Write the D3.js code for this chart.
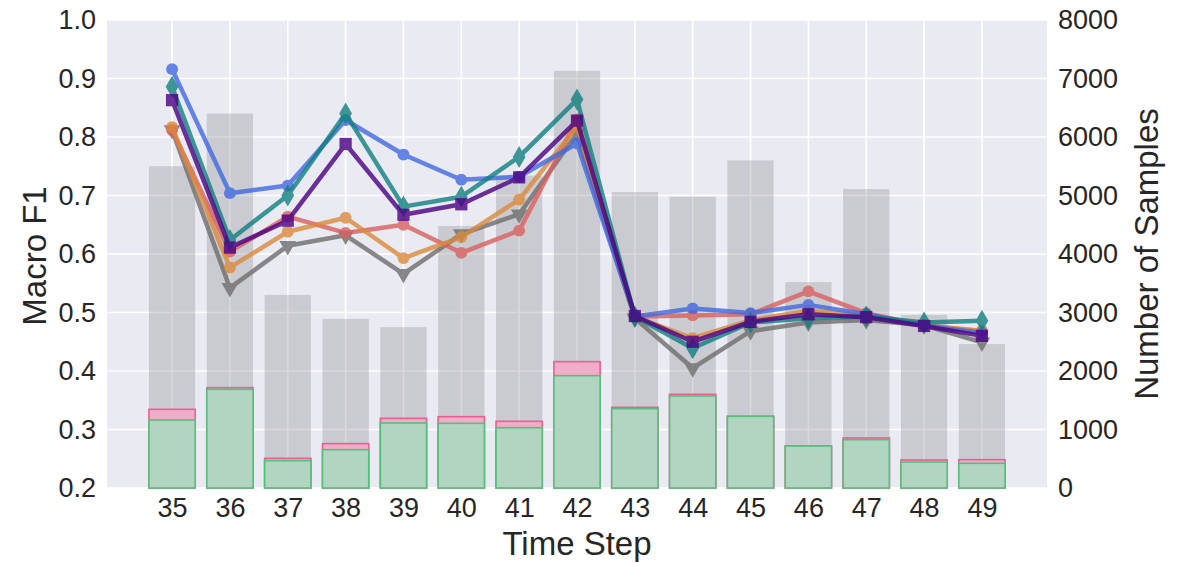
<!DOCTYPE html>
<html>
<head>
<meta charset="utf-8">
<script src="https://cdn.jsdelivr.net/npm/d3@7"></script>
<style>
  body { margin: 0; background: #fff; }
  text { font-family: "Liberation Sans", Arial, sans-serif; fill: #262626; }
</style>
</head>
<body>
<div id="chartArea"></div>
<script>
// time steps on the x axis
var steps = [35, 36, 37, 38, 39, 40, 41, 42, 43, 44, 45, 46, 47, 48, 49];

// sample counts (right axis)
var totalSamples = [5500, 6400, 3300, 2890, 2750, 4480, 5340, 7130, 5060, 4980, 5600, 3520, 5110, 2960, 2460];
var pinkSamples  = [1345, 1715, 507, 758, 1191, 1219, 1140, 2160, 1379, 1601, 1225, 718, 855, 479, 484];
var greenSamples = [1162, 1687, 467, 655, 1111, 1105, 1031, 1920, 1356, 1573, 1225, 718, 826, 444, 422];

// macro F1 series (left axis)
var grayF1   = [0.812, 0.542, 0.614, 0.632, 0.566, 0.634, 0.668, 0.806, 0.490, 0.405, 0.468, 0.483, 0.487, 0.478, 0.449];
var redF1    = [0.812, 0.604, 0.664, 0.636, 0.650, 0.602, 0.640, 0.830, 0.493, 0.495, 0.497, 0.536, 0.499, 0.478, 0.468];
var orangeF1 = [0.817, 0.577, 0.638, 0.662, 0.593, 0.629, 0.693, 0.818, 0.493, 0.456, 0.487, 0.503, 0.495, 0.478, 0.469];
var blueF1   = [0.916, 0.704, 0.717, 0.829, 0.770, 0.727, 0.732, 0.789, 0.493, 0.507, 0.499, 0.513, 0.497, 0.478, 0.465];
var tealF1   = [0.886, 0.624, 0.700, 0.840, 0.681, 0.698, 0.766, 0.864, 0.493, 0.439, 0.483, 0.490, 0.493, 0.483, 0.486];
var purpleF1 = [0.863, 0.611, 0.657, 0.788, 0.667, 0.685, 0.731, 0.828, 0.494, 0.450, 0.484, 0.497, 0.492, 0.477, 0.460];

var f1Ticks = [0.2, 0.3, 0.4, 0.5, 0.6, 0.7, 0.8, 0.9, 1.0];
var sampleTicks = [0, 1000, 2000, 3000, 4000, 5000, 6000, 7000, 8000];

var width = 1188, height = 563;
var margin = {top: 20, right: 141, bottom: 75, left: 107};
var innerW = width - margin.left - margin.right;
var innerH = height - margin.top - margin.bottom;

var xscale = d3.scaleLinear().domain([-1.125, steps.length - 1 + 1.125]).range([0, innerW]);
var yscale = d3.scaleLinear().domain([0.2, 1.0]).range([innerH, 0]);
var y2scale = d3.scaleLinear().domain([0, 8000]).range([innerH, 0]);
var barW = xscale(0.8) - xscale(0);

var svg = d3.select('#chartArea').append('svg')
    .attr('width', width)
    .attr('height', height);

var g = svg.append('g')
    .attr('transform', 'translate(' + margin.left + ',' + margin.top + ')');

g.append('rect')
    .attr('width', innerW).attr('height', innerH)
    .attr('fill', '#eaeaf2');

// grid
g.append('g').selectAll('line').data(f1Ticks).enter().append('line')
    .attr('x1', 0).attr('x2', innerW)
    .attr('y1', function(d){ return yscale(d); })
    .attr('y2', function(d){ return yscale(d); })
    .attr('stroke', '#fff').attr('stroke-width', 1.6);
g.append('g').selectAll('line').data(steps).enter().append('line')
    .attr('x1', function(d, i){ return xscale(i); })
    .attr('x2', function(d, i){ return xscale(i); })
    .attr('y1', 0).attr('y2', innerH)
    .attr('stroke', '#fff').attr('stroke-width', 1.6);

// bars
function bars(data, fill, fillOp, stroke) {
    g.append('g').selectAll('rect').data(data).enter().append('rect')
        .attr('x', function(d, i){ return xscale(i) - barW / 2; })
        .attr('y', function(d){ return y2scale(d); })
        .attr('width', barW)
        .attr('height', function(d){ return innerH - y2scale(d); })
        .attr('fill', fill)
        .attr('fill-opacity', fillOp)
        .attr('stroke', stroke || 'none')
        .attr('stroke-width', 1.6);
}
bars(totalSamples, '#808085', 0.3);
bars(pinkSamples, '#f5a8c6', 0.88, '#ea5f92');
bars(greenSamples, '#a7dbbe', 0.88, '#56bf7c');

// lines
var series = [
    {vals: grayF1,   color: '#6e6e6e', marker: 'tri'},
    {vals: redF1,    color: '#d9605e', marker: 'circle'},
    {vals: orangeF1, color: '#dc8a3c', marker: 'circle'},
    {vals: blueF1,   color: '#4169e1', marker: 'circle'},
    {vals: tealF1,   color: '#107f7f', marker: 'diamond'},
    {vals: purpleF1, color: '#4b0082', marker: 'square'}
];
var line = d3.line()
    .x(function(d, i){ return xscale(i); })
    .y(function(d){ return yscale(d); });
var symbols = {
    circle: d3.symbol().type(d3.symbolCircle).size(110),
    square: d3.symbol().type(d3.symbolSquare).size(150),
    diamond: d3.symbol().type(d3.symbolDiamond).size(140),
    tri: d3.symbol().type(d3.symbolTriangle).size(120)
};
series.forEach(function(s) {
    var sg = g.append('g').attr('opacity', 0.8);
    sg.append('path').datum(s.vals)
        .attr('d', line)
        .attr('fill', 'none')
        .attr('stroke', s.color)
        .attr('stroke-width', 4.5)
        .attr('stroke-linejoin', 'round');
    sg.selectAll('path.m').data(s.vals).enter().append('path')
        .attr('class', 'm')
        .attr('d', symbols[s.marker])
        .attr('transform', function(d, i){
            return 'translate(' + xscale(i) + ',' + yscale(d) + ')' + (s.marker == 'tri' ? ' rotate(180)' : '');
        })
        .attr('fill', s.color);
});

// axes
var yAxis = g.append('g')
    .call(d3.axisLeft(yscale).tickValues(f1Ticks).tickFormat(d3.format('.1f')).tickSize(0).tickPadding(11));
var y2Axis = g.append('g')
    .attr('transform', 'translate(' + innerW + ',0)')
    .call(d3.axisRight(y2scale).tickValues(sampleTicks).tickFormat(d3.format('d')).tickSize(0).tickPadding(11));
var xAxis = g.append('g')
    .attr('transform', 'translate(0,' + innerH + ')')
    .call(d3.axisBottom(xscale).tickValues(d3.range(steps.length))
        .tickFormat(function(i){ return steps[i]; }).tickSize(0).tickPadding(10));
[yAxis, y2Axis, xAxis].forEach(function(a) {
    a.select('.domain').remove();
    a.selectAll('text').style('font-size', '27px').attr('fill', '#262626')
        .style('font-family', '"Liberation Sans", Arial, sans-serif');
});

svg.append('text')
    .attr('transform', 'translate(46,' + (margin.top + innerH / 2 + 2) + ') rotate(-90)')
    .attr('text-anchor', 'middle')
    .style('font-size', '33px')
    .text('Macro F1');
svg.append('text')
    .attr('transform', 'translate(1158,' + (margin.top + innerH / 2) + ') rotate(-90)')
    .attr('text-anchor', 'middle')
    .style('font-size', '33px')
    .text('Number of Samples');
svg.append('text')
    .attr('x', margin.left + innerW / 2)
    .attr('y', 555)
    .attr('text-anchor', 'middle')
    .style('font-size', '33px')
    .text('Time Step');
</script>
</body>
</html>
